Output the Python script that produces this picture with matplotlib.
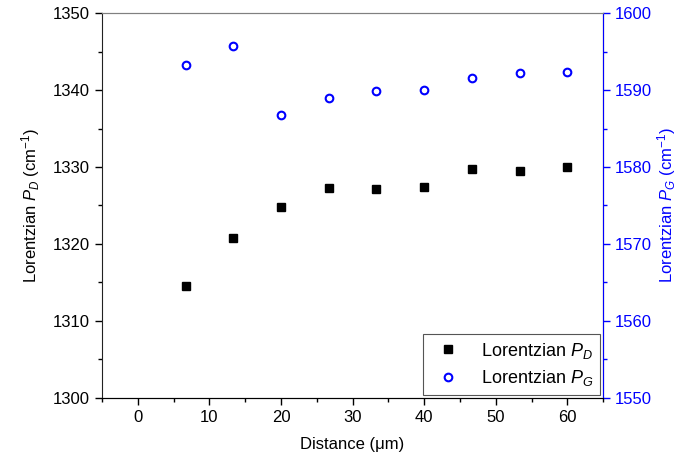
import numpy as np
import matplotlib
matplotlib.use("Agg")
import matplotlib.pyplot as plt
from matplotlib.ticker import MultipleLocator

plt.rcParams['font.family'] = ['Liberation Sans', 'DejaVu Sans']
plt.rcParams['mathtext.fontset'] = 'custom'
plt.rcParams['mathtext.rm'] = 'Liberation Sans'
plt.rcParams['mathtext.it'] = 'Liberation Sans:italic'

# distance along the sample (um)
distance = [6.67, 13.33, 20.0, 26.67, 33.33, 40.0, 46.67, 53.33, 60.0]
# Lorentzian peak positions (cm^-1)
pos_d = [1314.6, 1320.8, 1324.85, 1327.3, 1327.1, 1327.4, 1329.8, 1329.5, 1330.0]
pos_g = [1593.25, 1595.7, 1586.8, 1589.0, 1589.9, 1590.05, 1591.5, 1592.2, 1592.35]

FS = 12
BLUE = '#0000ff'

fig = plt.figure(figsize=(6.8, 4.67), dpi=100)
ax = fig.add_axes([0.15, 0.148, 0.737, 0.824])
ax2 = ax.twinx()

l1, = ax.plot(distance, pos_d, ls='none', marker='s', ms=5.5, color='black',
              label='Lorentzian $P_D$')
l2, = ax2.plot(distance, pos_g, ls='none', marker='o', ms=5.5, mfc='none',
               mec=BLUE, mew=1.5, label='Lorentzian $P_G$')

ax.set_xlim(-5, 65)
ax.set_ylim(1300, 1350)
ax2.set_ylim(1550, 1600)

ax.xaxis.set_major_locator(MultipleLocator(10))
ax.xaxis.set_minor_locator(MultipleLocator(5))
ax.yaxis.set_major_locator(MultipleLocator(10))
ax.yaxis.set_minor_locator(MultipleLocator(5))
ax2.yaxis.set_major_locator(MultipleLocator(10))
ax2.yaxis.set_minor_locator(MultipleLocator(5))

ax.tick_params(which='both', direction='out', labelsize=FS, top=False, right=False)
ax.tick_params(which='major', length=5, width=1)
ax.tick_params(which='minor', length=3, width=1)
ax2.tick_params(which='both', direction='out', colors=BLUE, labelsize=FS)
ax2.tick_params(which='major', length=5, width=1)
ax2.tick_params(which='minor', length=3, width=1)

ax.spines['top'].set_color('#808080')
ax2.spines['top'].set_color('#808080')
ax2.spines['right'].set_color(BLUE)
ax2.spines['left'].set_visible(False)
for s in ['left', 'bottom']:
    ax.spines[s].set_color('#222222')

ax.set_xlabel('Distance (\u03bcm)', fontsize=FS, labelpad=9)
ax.set_ylabel('Lorentzian $P_D$ (cm$^{-1}$)', fontsize=FS, labelpad=8)
ax2.set_ylabel('Lorentzian $P_G$ (cm$^{-1}$)', fontsize=FS, color=BLUE, labelpad=2)

leg = ax2.legend(handles=[l1, l2], loc='lower right', fontsize=FS + 1,
                 fancybox=False, edgecolor='#555555', framealpha=1,
                 borderaxespad=0.15, handletextpad=0.8, borderpad=0.4,
                 labelspacing=0.4)
leg.get_frame().set_linewidth(0.8)

fig.savefig('out.png', dpi=100)
